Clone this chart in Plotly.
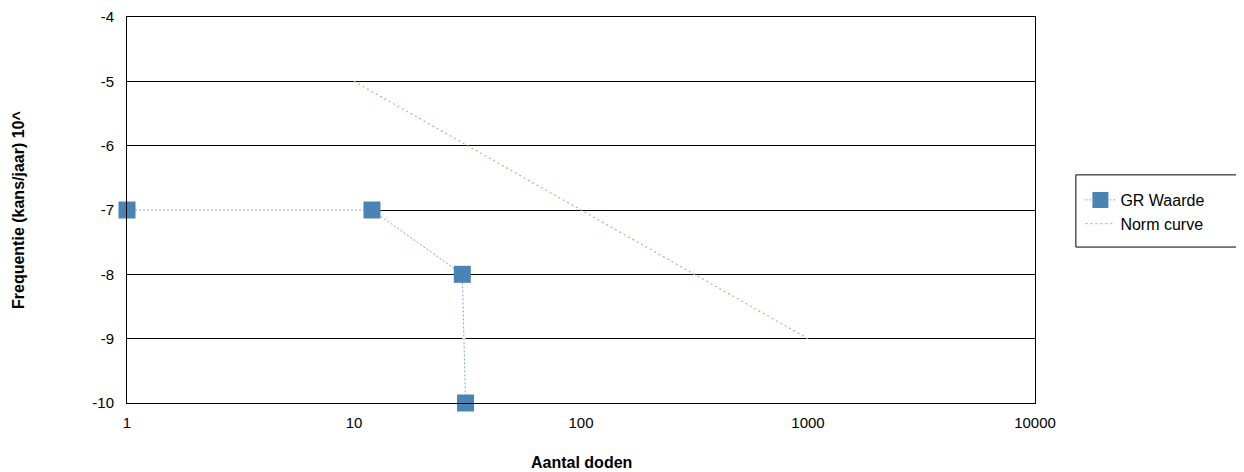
import plotly.graph_objects as go

gr_x = [1, 12, 30, 31]
gr_y = [-7, -7, -8, -10]
norm_x = [10, 1000]
norm_y = [-5, -9]
x_ticks = [1, 10, 100, 1000, 10000]
x_labels = ["1", "10", "100", "1000", "10000"]
y_ticks = [-10, -9, -8, -7, -6, -5, -4]
y_labels = ["-10", "-9", "-8", "-7", "-6", "-5", "-4"]

FF = "Liberation Sans, Arial, sans-serif"

fig = go.Figure()
# white underlay so the series line covers the gridline like the original
fig.add_trace(go.Scatter(
    x=gr_x, y=gr_y, mode="lines", showlegend=False, hoverinfo="skip",
    line=dict(color="white", width=3),
))
fig.add_trace(go.Scatter(
    x=gr_x, y=gr_y, mode="lines+markers", name="GR Waarde",
    line=dict(color="#7fa6d6", width=1, dash="2px,2px"),
    marker=dict(symbol="square", size=17, color="#4a84b4", line=dict(width=0)),
))
fig.add_trace(go.Scatter(
    x=norm_x, y=norm_y, mode="lines", name="Norm curve",
    line=dict(color="#d9a58e", width=1.2, dash="2px,3px"),
))

fig.update_layout(
    width=1236, height=464,
    margin=dict(l=119, r=209, t=9, b=69),
    paper_bgcolor="white", plot_bgcolor="white",
    font=dict(family=FF, size=15, color="black"),
    showlegend=True,
    legend=dict(
        x=1.050, y=0.570, xanchor="left", yanchor="top",
        borderwidth=0, bgcolor="rgba(0,0,0,0)",
        font=dict(family=FF, size=16, color="black"),
        tracegroupgap=0, itemwidth=30,
    ),
    shapes=[dict(type="rect", xref="paper", yref="paper",
                 x0=1.045, x1=1.227, y0=0.404, y1=0.591,
                 line=dict(color="black", width=1), fillcolor="rgba(0,0,0,0)")],
    annotations=[
        dict(text="<b>Frequentie (kans/jaar) 10^</b>", xref="paper", yref="paper",
             x=0, y=0.5, xanchor="center", yanchor="middle", xshift=-109,
             textangle=-90, showarrow=False, font=dict(family=FF, size=16)),
        dict(text="<b>Aantal doden</b>", xref="paper", yref="paper",
             x=0.5, y=0, xanchor="center", yanchor="middle", yshift=-59,
             showarrow=False, font=dict(family=FF, size=16)),
    ],
    xaxis=dict(
        type="log", range=[0, 4], automargin=False,
        tickvals=x_ticks, ticktext=x_labels,
        showgrid=False, zeroline=False,
        showline=True, linecolor="black", linewidth=1, mirror=True,
        ticks="", ticklabelstandoff=6,
    ),
    yaxis=dict(
        range=[-10, -4], tickvals=y_ticks, ticktext=y_labels, automargin=False,
        showgrid=True, gridcolor="black", gridwidth=1,
        zeroline=False,
        showline=True, linecolor="black", linewidth=1, mirror=True,
        ticks="", ticklabelstandoff=9,
    ),
)
fig.update_traces(cliponaxis=False)
fig.write_html("out.html")
